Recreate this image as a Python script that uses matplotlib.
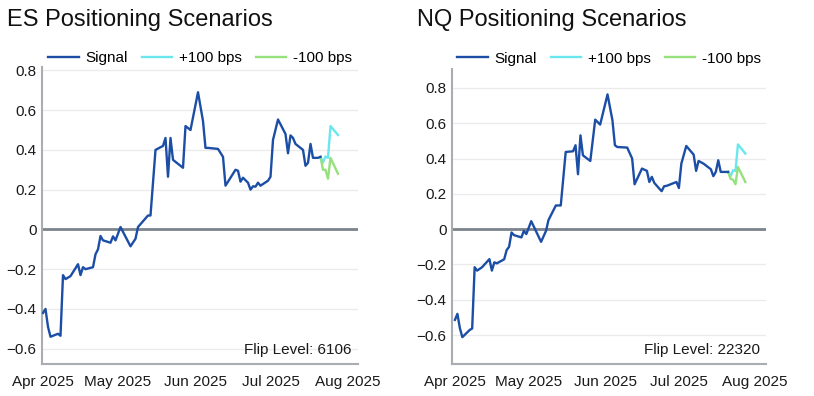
import matplotlib
matplotlib.use("Agg")
import matplotlib.pyplot as plt
import matplotlib.dates as mdates
from matplotlib.ticker import FuncFormatter, FixedLocator
import numpy as np
import pandas as pd

plt.rcParams['font.family'] = ['Liberation Sans', 'DejaVu Sans']

BASE = pd.Timestamp("2025-04-01")

# ---- ES data (day offsets from Apr 1, 2025) ----
es_days = [0, 1, 2, 3, 6, 7, 8, 9, 11, 14, 15, 16, 17, 20, 21, 22, 23, 24, 27, 28, 29,
           31, 35, 37, 38, 42, 43, 45, 48, 49, 50, 51, 52, 56, 57, 59, 62, 64, 65, 66,
           70, 72, 73, 77, 78, 79, 80, 82, 83, 84, 85, 86, 87, 90, 91, 92, 94, 97, 98,
           99, 100, 101, 104, 105, 106, 107, 108, 110, 111]
es_signal = [-0.42, -0.40, -0.49, -0.54, -0.525, -0.535, -0.23, -0.25, -0.235, -0.175,
             -0.23, -0.19, -0.20, -0.19, -0.125, -0.10, -0.033, -0.055, -0.067, -0.035,
             -0.055, 0.012, -0.085, -0.047, 0.012, 0.07, 0.07, 0.40, 0.42, 0.46, 0.265,
             0.46, 0.35, 0.31, 0.52, 0.50, 0.69, 0.545, 0.41, 0.41, 0.405, 0.365, 0.22,
             0.30, 0.295, 0.24, 0.26, 0.235, 0.20, 0.217, 0.215, 0.235, 0.22, 0.245,
             0.265, 0.45, 0.553, 0.48, 0.383, 0.473, 0.46, 0.43, 0.40, 0.32, 0.335,
             0.43, 0.36, 0.36, 0.365]
es_scen_days = [111, 112, 113, 114, 115, 118]
es_up = [0.365, 0.337, 0.367, 0.36, 0.52, 0.475]
es_down = [0.365, 0.30, 0.30, 0.255, 0.36, 0.28]

# ---- NQ data ----
nq_days = [0, 1, 2, 3, 6, 7, 8, 9, 11, 14, 15, 16, 17, 20, 21, 22, 23, 24, 27, 28, 29,
           31, 35, 37, 38, 41, 43, 45, 48, 49, 50, 51, 52, 55, 57, 59, 62, 64, 65, 66,
           70, 72, 73, 76, 78, 79, 80, 81, 83, 84, 85, 86, 90, 91, 92, 94, 97, 98, 99,
           101, 104, 105, 106, 107, 108, 111]
nq_signal = [-0.514, -0.48, -0.561, -0.612, -0.571, -0.563, -0.216, -0.235, -0.216,
             -0.17, -0.235, -0.188, -0.194, -0.171, -0.119, -0.10, -0.019, -0.034,
             -0.047, -0.01, -0.028, 0.045, -0.072, -0.01, 0.051, 0.134, 0.134, 0.437,
             0.441, 0.475, 0.311, 0.531, 0.418, 0.386, 0.62, 0.592, 0.763, 0.616, 0.475,
             0.465, 0.462, 0.40, 0.254, 0.343, 0.33, 0.267, 0.296, 0.262, 0.23, 0.215,
             0.243, 0.245, 0.267, 0.233, 0.371, 0.471, 0.422, 0.33, 0.386, 0.371, 0.339,
             0.30, 0.324, 0.39, 0.324, 0.324]
nq_scen_days = [111, 112, 113, 114, 115, 118]
nq_up = [0.324, 0.30, 0.333, 0.33, 0.48, 0.428]
nq_down = [0.324, 0.285, 0.28, 0.254, 0.352, 0.267]

titles = ["ES Positioning Scenarios", "NQ Positioning Scenarios"]
flip_labels = ["Flip Level: 6106", "Flip Level: 22320"]
series_names = ["Signal", "+100 bps", "-100 bps"]
y_ticks = [-0.6, -0.4, -0.2, 0.0, 0.2, 0.4, 0.6, 0.8]
x_ticks = ["2025-04-01", "2025-05-01", "2025-06-01", "2025-07-01", "2025-08-01"]

C_SIG = "#1c4ea6"
C_UP = "#6ae6ee"
C_DN = "#96e07e"


def to_dates(days):
    return [BASE + pd.Timedelta(days=d) for d in days]


fig = plt.figure(figsize=(8.14, 3.96), dpi=100)

specs = [
    dict(rect=[42 / 814, 32 / 396, 316 / 814, 297 / 396], ylim=(-0.677, 0.817),
         xlim=(-0.4, 126), days=es_days, sig=es_signal, sdays=es_scen_days,
         up=es_up, dn=es_down, title_x=7 / 814, leg_y=0.985),
    dict(rect=[452 / 814, 32 / 396, 314 / 814, 295 / 396], ylim=(-0.764, 0.907),
         xlim=(-1.2, 126.4), days=nq_days, sig=nq_signal, sdays=nq_scen_days,
         up=nq_up, dn=nq_down, title_x=417 / 814, leg_y=0.99),
]


def yfmt(v, pos):
    if abs(v) < 1e-9:
        return "0"
    s = f"{v:.1f}"
    return s.replace("-", "\u2212")


for i, sp in enumerate(specs):
    ax = fig.add_axes(sp["rect"])
    ax.plot(to_dates(sp["days"]), sp["sig"], color=C_SIG, lw=1.7, label=series_names[0], zorder=3)
    ax.plot(to_dates(sp["sdays"]), sp["up"], color=C_UP, lw=1.7, label=series_names[1], zorder=2)
    ax.plot(to_dates(sp["sdays"]), sp["dn"], color=C_DN, lw=1.7, label=series_names[2], zorder=2)
    ax.axhline(0, color="#7d848b", lw=2.0, zorder=1)

    ax.set_ylim(*sp["ylim"])
    ax.set_xlim(BASE + pd.Timedelta(days=sp["xlim"][0]), BASE + pd.Timedelta(days=sp["xlim"][1]))
    ax.yaxis.set_major_locator(FixedLocator(y_ticks))
    ax.yaxis.set_major_formatter(FuncFormatter(yfmt))
    ax.set_xticks([pd.Timestamp(t) for t in x_ticks])
    ax.xaxis.set_major_formatter(mdates.DateFormatter("%b %Y"))
    ax.grid(axis="y", color="#ebebeb", lw=1.0, zorder=0)
    ax.set_axisbelow(True)
    for s in ["top", "right"]:
        ax.spines[s].set_visible(False)
    for s in ["left", "bottom"]:
        ax.spines[s].set_color("#a9adb1")
        ax.spines[s].set_linewidth(1.5)
    ax.tick_params(axis="both", length=0, labelsize=11, colors="#1a1a1a")
    ax.tick_params(axis="y", pad=4)
    ax.tick_params(axis="x", pad=8)

    ax.text(0.981, 0.048, flip_labels[i], transform=ax.transAxes, ha="right", va="center",
            fontsize=11, color="#1a1a1a")

    ax.legend(loc="lower center", bbox_to_anchor=(0.5, sp["leg_y"]), ncol=3, frameon=False,
              fontsize=11, handlelength=2.0, handletextpad=0.45, columnspacing=0.9,
              borderaxespad=0.0)

    fig.text(sp["title_x"], 1 - 20 / 396, titles[i], ha="left", va="center",
             fontsize=17, color="#111111")

fig.savefig("out.png", dpi=100)
